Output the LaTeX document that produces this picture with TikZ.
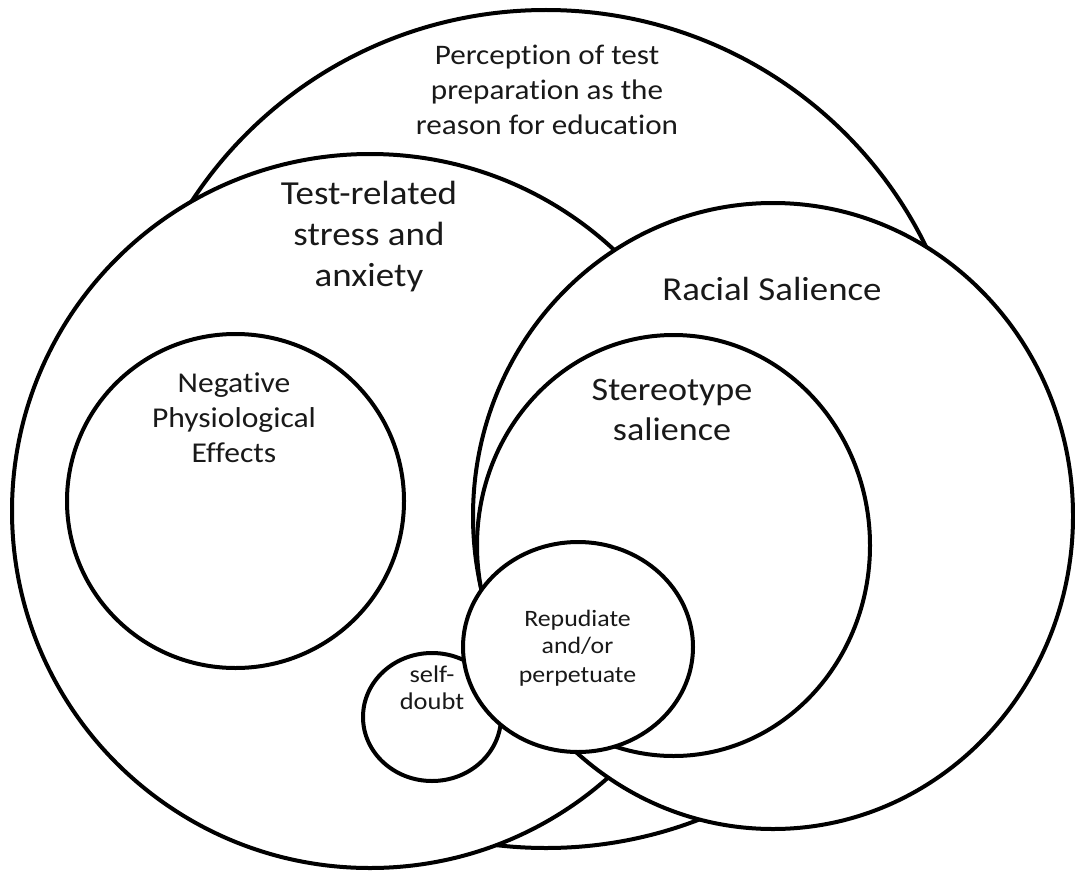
\documentclass[tikz,border=0pt]{standalone}
\usepackage{fontspec}
\setmainfont{Carlito}[FakeStretch=1.1, Ligatures=NoCommon]
\begin{document}
\begin{tikzpicture}[x=1pt,y=-1pt,
  zone/.style={draw=black, fill=white, line width=4pt},
  lbl/.style={anchor=base, inner sep=0pt, text=black!90}]
\useasboundingbox (0,0) rectangle (1075,872);
% circles, back to front
\draw[zone] (546,429) ellipse [x radius=422pt, y radius=419pt];
\draw[zone] (370,511) ellipse [x radius=358pt, y radius=357pt];
\draw[zone] (235.5,501) ellipse [x radius=168.5pt, y radius=167pt];
\draw[zone] (432,717) ellipse [x radius=69pt, y radius=64pt];
\draw[zone] (773,516) ellipse [x radius=300pt, y radius=313pt];
\draw[zone] (673.5,545.5) ellipse [x radius=196.5pt, y radius=210.5pt];
\draw[zone] (578,647) ellipse [x radius=115pt, y radius=105pt];
% labels
\begin{scope}[lbl/.append style={font=\fontsize{28.3}{34}\selectfont}]
\node[lbl] (perc1) at (547,65) {Perception of test};
\node[lbl] (perc2) at (547,99.5) {preparation as the};
\node[lbl] (perc3) at (547,134) {reason for education};
\end{scope}
\begin{scope}[lbl/.append style={font=\fontsize{33.6}{41}\selectfont}]
\node[lbl] (test1) at (369,204) {Test-related};
\node[lbl] (test2) at (369,245) {stress and};
\node[lbl] (test3) at (369,286) {anxiety};
\end{scope}
\node[lbl, font=\fontsize{33.5}{41}\selectfont] (race) at (772,300) {Racial Salience};
\begin{scope}[lbl/.append style={font=\fontsize{32.8}{40}\selectfont}]
\node[lbl] (ster1) at (672,400) {Stereotype};
\node[lbl] (ster2) at (672,440) {salience};
\end{scope}
\begin{scope}[lbl/.append style={font=\fontsize{28.7}{35}\selectfont}]
\node[lbl] (neg1) at (234,392) {Negative};
\node[lbl] (neg2) at (234,427) {Physiological};
\node[lbl] (neg3) at (234,462) {Effects};
\end{scope}
\begin{scope}[lbl/.append style={font=\fontsize{23.5}{28}\selectfont}]
\node[lbl] (rep1) at (577.5,626) {Repudiate};
\node[lbl] (rep2) at (577.5,653) {and/or};
\node[lbl] (rep3) at (577.5,682) {perpetuate};
\end{scope}
\begin{scope}[lbl/.append style={font=\fontsize{24}{27}\selectfont}]
\node[lbl] (self1) at (432,682) {self-};
\node[lbl] (self2) at (432,709) {doubt};
\end{scope}
\end{tikzpicture}
\end{document}
